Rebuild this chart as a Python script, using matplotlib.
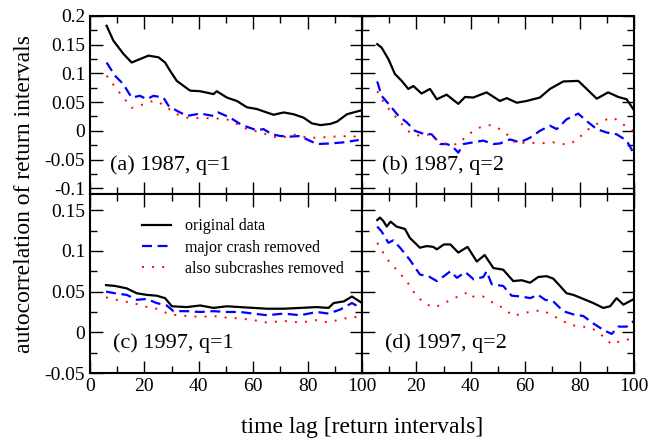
import matplotlib
matplotlib.use("Agg")
import matplotlib.pyplot as plt
from matplotlib.ticker import MultipleLocator

plt.rcParams['font.family'] = ['Liberation Serif', 'DejaVu Serif']
plt.rcParams['axes.unicode_minus'] = False

# ---- panel (a) 1987, q=1 ----
a_orig_x = [6.1, 8.6, 12.3, 15.3, 18.4, 21.5, 25.2, 27.6, 29.4, 31.9, 36.8, 40.5, 45.4, 46.6, 50.3, 54, 57.7, 61.3, 65, 67.5, 71.2, 74.8, 78.5, 81.6, 84.7, 88.3, 90.8, 94.5, 100]
a_orig_y = [0.183, 0.157, 0.134, 0.119, 0.125, 0.131, 0.128, 0.119, 0.105, 0.087, 0.070, 0.069, 0.064, 0.069, 0.058, 0.052, 0.041, 0.038, 0.032, 0.028, 0.032, 0.029, 0.023, 0.013, 0.010, 0.012, 0.016, 0.029, 0.036]
a_major_x = [6.1, 9.2, 12.3, 15.3, 18.4, 20.9, 23.3, 27, 28.8, 31.9, 35.6, 40.5, 45.4, 47.2, 51.5, 55.2, 57.7, 61.3, 63.8, 66.9, 70, 73.6, 77.3, 79.8, 83.4, 88.3, 93.3, 98.8]
a_major_y = [0.119, 0.096, 0.081, 0.058, 0.061, 0.055, 0.061, 0.058, 0.044, 0.035, 0.026, 0.030, 0.026, 0.032, 0.023, 0.012, 0.007, 0.001, 0.003, -0.006, -0.009, -0.010, -0.009, -0.015, -0.023, -0.022, -0.020, -0.016]
a_sub_x = [6.1, 9.8, 12.3, 15.3, 18.4, 22.1, 24.5, 28.2, 31.9, 35.6, 40.5, 45.4, 50.3, 54, 57.7, 61.3, 65, 68.7, 72.4, 76, 79.8, 83.4, 89.6, 96.9, 98.8]
a_sub_y = [0.096, 0.073, 0.058, 0.040, 0.044, 0.051, 0.052, 0.041, 0.029, 0.023, 0.022, 0.022, 0.020, 0.012, 0.003, -0.001, -0.006, -0.012, -0.010, -0.006, -0.012, -0.012, -0.010, -0.009, -0.013]

# ---- panel (b) 1987, q=2 ----
b_orig_x = [5.6, 7.2, 9.7, 12.1, 14.6, 17.0, 18.9, 21.9, 25, 27.5, 31.1, 35.4, 37.9, 40.9, 45.8, 50.7, 53.2, 56.9, 60.5, 65.4, 69.1, 74, 79.5, 82.6, 86.3, 90.5, 94.2, 97.3, 100]
b_orig_y = [0.151, 0.145, 0.125, 0.099, 0.087, 0.073, 0.078, 0.065, 0.073, 0.055, 0.063, 0.047, 0.059, 0.058, 0.067, 0.052, 0.057, 0.049, 0.052, 0.058, 0.073, 0.086, 0.087, 0.073, 0.056, 0.067, 0.059, 0.055, 0.036]
b_major_x = [5.6, 7.2, 10.3, 13.4, 16.4, 19.5, 22.5, 25.6, 28.7, 31.1, 33, 35.4, 37.3, 40.9, 44.6, 48.3, 50.7, 54.4, 58.1, 61.8, 65.4, 69.1, 71.6, 75.2, 79.5, 82.6, 86.3, 90, 93.6, 97.3, 100]
b_major_y = [0.086, 0.061, 0.044, 0.026, 0.015, 0.000, -0.005, -0.006, -0.023, -0.023, -0.026, -0.038, -0.023, -0.020, -0.017, -0.023, -0.022, -0.015, -0.020, -0.012, 0.000, 0.009, 0.003, 0.020, 0.030, 0.017, 0.003, -0.003, -0.006, -0.017, -0.040]
b_sub_x = [5.6, 7.2, 10.9, 14.6, 17.6, 21.3, 25, 28.7, 32.4, 35.4, 39.1, 43.4, 47.1, 50.7, 53.2, 56.9, 60.5, 65.4, 70.3, 75.2, 78.8, 82.4, 86.3, 90, 92.4, 97.3, 100]
b_sub_y = [0.069, 0.055, 0.032, 0.012, -0.003, -0.009, -0.006, -0.020, -0.024, -0.023, -0.006, 0.006, 0.010, 0.003, -0.006, -0.023, -0.020, -0.022, -0.020, -0.024, -0.017, 0.000, 0.012, 0.020, 0.023, 0.007, -0.001]

# ---- panel (c) 1997, q=1 ----
c_orig_x = [5.9, 9.2, 13.5, 17.2, 20.9, 24.5, 27.6, 30.1, 35.6, 40.5, 45.4, 50.3, 55.2, 60.1, 65, 71.2, 77.3, 83.4, 87.7, 89.6, 93.3, 96.3, 100]
c_orig_y = [0.058, 0.057, 0.054, 0.048, 0.046, 0.045, 0.042, 0.032, 0.031, 0.033, 0.030, 0.032, 0.031, 0.030, 0.029, 0.029, 0.030, 0.031, 0.030, 0.036, 0.038, 0.044, 0.036]
c_major_x = [5.9, 9.2, 13.5, 17.2, 20.9, 24.5, 28.2, 30.7, 35.6, 40.5, 45.4, 50.3, 55.2, 60.1, 65, 71.2, 77.3, 83.4, 87.7, 92, 96.3, 100]
c_major_y = [0.050, 0.048, 0.046, 0.040, 0.041, 0.036, 0.033, 0.026, 0.026, 0.025, 0.026, 0.025, 0.025, 0.023, 0.021, 0.023, 0.021, 0.025, 0.023, 0.028, 0.036, 0.029]
c_sub_x = [5.9, 11, 16, 19.6, 24.5, 29.4, 35.6, 40.5, 45.4, 50.3, 55.2, 60.1, 65, 71.2, 77.3, 83.4, 87.7, 92, 96.9, 100]
c_sub_y = [0.043, 0.039, 0.036, 0.032, 0.029, 0.022, 0.020, 0.019, 0.020, 0.018, 0.017, 0.015, 0.012, 0.014, 0.012, 0.015, 0.012, 0.016, 0.019, 0.018]

# ---- panel (d) 1997, q=2 ----
d_orig_x = [5.6, 6.6, 7.8, 9.1, 10.5, 12.7, 15.8, 17.6, 21.3, 23.8, 26.2, 27.5, 30.1, 32.5, 35.4, 38.8, 42.2, 45.1, 48.3, 51.9, 55.6, 58.7, 61.8, 64.8, 67.9, 70.3, 72.8, 75.2, 77.7, 81.4, 85, 88.7, 91.2, 93.6, 96.1, 100]
d_orig_y = [0.138, 0.141, 0.137, 0.130, 0.136, 0.130, 0.127, 0.116, 0.104, 0.106, 0.105, 0.102, 0.108, 0.108, 0.098, 0.105, 0.087, 0.095, 0.079, 0.077, 0.063, 0.064, 0.061, 0.068, 0.069, 0.066, 0.057, 0.048, 0.046, 0.041, 0.036, 0.030, 0.032, 0.042, 0.034, 0.041]
d_major_x = [5.6, 7.2, 9.7, 11.5, 14, 17.6, 21.3, 24.4, 27.5, 29.3, 32.5, 34.9, 38, 41.1, 44.6, 45.8, 47.7, 51.9, 55, 58.7, 61.8, 64.8, 67.3, 70.3, 74, 77.7, 81.4, 85, 88.7, 91.8, 94.2, 97.3, 100]
d_major_y = [0.130, 0.124, 0.110, 0.113, 0.104, 0.089, 0.071, 0.069, 0.063, 0.067, 0.075, 0.067, 0.074, 0.065, 0.068, 0.075, 0.059, 0.057, 0.045, 0.044, 0.042, 0.046, 0.040, 0.038, 0.026, 0.022, 0.020, 0.011, 0.003, -0.002, 0.007, 0.007, 0.014]
d_sub_x = [5.6, 7.8, 10.3, 12.7, 16.4, 20.1, 23.8, 26.8, 29.9, 33.6, 36.6, 39.1, 40.9, 44.6, 48.3, 51.9, 55.6, 58.7, 62.9, 66.7, 69.1, 72.8, 76.5, 81.4, 85, 88.7, 91.8, 94.8, 97.3, 100]
d_sub_y = [0.110, 0.098, 0.085, 0.077, 0.063, 0.044, 0.034, 0.031, 0.035, 0.042, 0.045, 0.050, 0.044, 0.044, 0.036, 0.030, 0.020, 0.023, 0.026, 0.027, 0.022, 0.016, 0.009, 0.007, 0.004, -0.005, -0.015, -0.011, -0.010, -0.003]

panel_labels = ["(a) 1987, q=1", "(b) 1987, q=2", "(c) 1997, q=1", "(d) 1997, q=2"]
series_names = ["original data", "major crash removed", "also subcrashes removed"]
x_ticks = [0, 20, 40, 60, 80, 100]
top_yticks = [-0.1, -0.05, 0, 0.05, 0.1, 0.15, 0.2]
bot_yticks = [-0.05, 0, 0.05, 0.1, 0.15]

panels = [
    (a_orig_x, a_orig_y, a_major_x, a_major_y, a_sub_x, a_sub_y),
    (b_orig_x, b_orig_y, b_major_x, b_major_y, b_sub_x, b_sub_y),
    (c_orig_x, c_orig_y, c_major_x, c_major_y, c_sub_x, c_sub_y),
    (d_orig_x, d_orig_y, d_major_x, d_major_y, d_sub_x, d_sub_y),
]

W, H = 652, 441
fig = plt.figure(figsize=(W / 100, H / 100), dpi=100)

L, R = 90, 634
T, M, B = 16, 194, 373
pw = (R - L) / 2
rects = [
    (L, T, M), (L + pw, T, M),
    (L, M, B), (L + pw, M, B),
]

axes = []
for i, (x0, ytop, ybot) in enumerate(rects):
    ax = fig.add_axes([x0 / W, 1 - ybot / H, pw / W, (ybot - ytop) / H])
    axes.append(ax)
    ox, oy, mx, my, sx, sy = panels[i]
    ax.plot(ox, oy, color='black', lw=1.6, solid_joinstyle='round')
    ax.plot(mx, my, color='#0000ff', lw=1.6, linestyle=(0, (4.5, 2.5)))
    ax.plot(sx, sy, color='#ff0000', lw=1.4, linestyle=(0, (1, 4.2)))
    ax.set_xlim(0, 100)
    if i < 2:
        ax.set_ylim(-0.11, 0.2)
        ax.set_yticks(top_yticks)
    else:
        ax.set_ylim(-0.05, 0.17)
        ax.set_yticks(bot_yticks)
    ax.yaxis.set_minor_locator(MultipleLocator(0.025))
    ax.set_xticks(x_ticks)
    ax.xaxis.set_minor_locator(MultipleLocator(10))
    ax.tick_params(which='both', direction='in', top=True, right=True, width=1.0, labelsize=14)
    ax.tick_params(which='major', length=9)
    ax.tick_params(which='minor', length=5)
    for sp in ax.spines.values():
        sp.set_linewidth(1.5)
    if i % 2 == 0:
        ax.set_yticklabels([f"{v:g}" for v in ax.get_yticks()])
    else:
        ax.set_yticklabels([])
    if i < 2:
        ax.set_xticklabels([])
    else:
        labs = [str(v) for v in x_ticks]
        if i == 3:
            labs[0] = ""
        ax.set_xticklabels(labs)
    ax.text(0.075 if i < 2 else 0.085, 0.16 if i < 2 else 0.168, panel_labels[i],
            transform=ax.transAxes, fontsize=16, va='center', ha='left')

# legend in panel (c)
lines = axes[2].get_lines()
axes[2].legend(lines, series_names, loc='upper left', bbox_to_anchor=(0.168, 0.90),
               frameon=False, fontsize=11.5, handlelength=1.8, handletextpad=0.9,
               labelspacing=0.33, borderaxespad=0.0)

fig.text(25 / W, 1 - (194) / H, "autocorrelation of return intervals", rotation=90,
         fontsize=17, va='center', ha='center')
fig.text(362 / W, 1 - 428 / H, "time lag [return intervals]", fontsize=17,
         va='center', ha='center')

fig.savefig("out.png", dpi=100)
